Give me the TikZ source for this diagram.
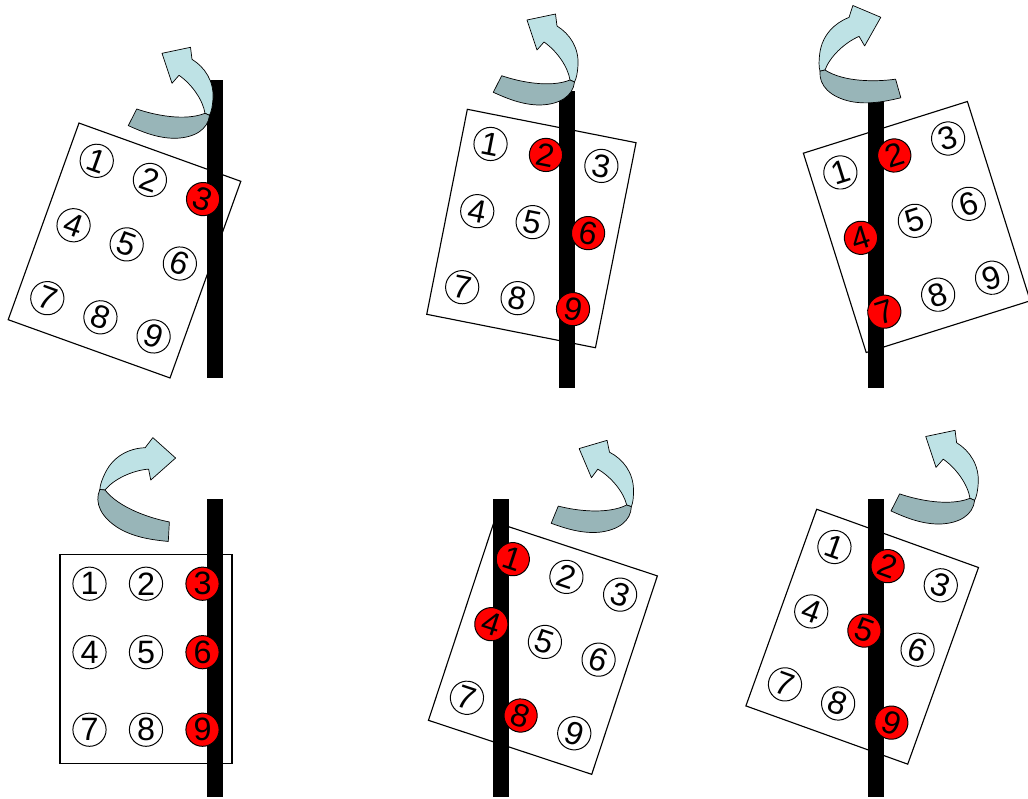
\documentclass[tikz,border=0pt]{standalone}
\usepackage{fontspec}
\setmainfont{Liberation Sans}
\usepackage{tikz}
\definecolor{ribbonlight}{RGB}{190,226,229}
\definecolor{ribbondark}{RGB}{152,181,184}
% twisted ribbon arrow, drawn round its twist point
\newcommand{\twistarrow}{%
  \draw[ribbon,fill=ribbonlight] (0,0) .. controls (-2,-13) and (-13,-29) .. (-26,-38) -- (-33,-30) -- (-43,-60) -- (-14.5,-66) -- (-13,-54) .. controls (0,-46) and (9,-32) .. (8,-15) .. controls (7.5,-7) and (6.5,-2) .. (4.5,2) -- cycle;
  \draw[ribbon,fill=ribbondark] (-68.3,-4.3) .. controls (-50,2) and (-20,8) .. (0,0) -- (4.5,2) .. controls (3,16) and (-10,24.5) .. (-30,25) .. controls (-48,25) and (-64,18) .. (-76.7,12.3) -- cycle;}

\begin{document}
\begin{tikzpicture}[x=0.025cm,y=-0.025cm,
    card/.style={draw,fill=white,line width=0.8pt},
    bar/.style={fill=black},
    ribbon/.style={draw=black,line width=0.5pt,line join=round},
    hole/.style={circle,draw,line width=0.7pt,fill=white,minimum size=0.83cm,inner sep=0pt,transform shape,font=\fontsize{23}{23}\selectfont},
    redhole/.style={hole,fill=red},
    panelA/.style={shift={(124.5,250.5)},rotate=-19.8},
    panelB/.style={shift={(531.4,228.5)},rotate=-11.2},
    panelC/.style={shift={(916.8,227)},rotate=17.5},
    panelD/.style={shift={(146,658.7)}},
    panelE/.style={shift={(542.9,648.1)},rotate=-18.3},
    panelF/.style={shift={(862.2,636.7)},rotate=-19.8}]
  \useasboundingbox (0,0) rectangle (1028,798);

  % top left
  \draw[card,panelA] (-86,-104.5) -- (86,-104.5) -- (86,104.5) -- (-86,104.5) -- cycle;
  \fill[bar] (206.5,80) rectangle (222.5,378);
  \begin{scope}[panelA]
    \node[hole] (a1) at (-56.5,-75) {1};
    \node[hole] (a2) at (0,-75) {2};
    \node[redhole] (a3) at (56.5,-75) {3};
    \node[hole] (a4) at (-56.5,-6.5) {4};
    \node[hole] (a5) at (0,-6.5) {5};
    \node[hole] (a6) at (56.5,-6.5) {6};
    \node[hole] (a7) at (-56.5,71) {7};
    \node[hole] (a8) at (0,71) {8};
    \node[hole] (a9) at (56.5,71) {9};
  \end{scope}
  \begin{scope}[shift={(205,113.3)}]
    \twistarrow
  \end{scope}

  % top middle
  \draw[card,panelB] (-86,-104.5) -- (86,-104.5) -- (86,104.5) -- (-86,104.5) -- cycle;
  \fill[bar] (559.2,90.7) rectangle (575.2,388.3);
  \begin{scope}[panelB]
    \node[hole] (b1) at (-56.5,-75) {1};
    \node[redhole] (b2) at (0,-75) {2};
    \node[hole] (b3) at (56.5,-75) {3};
    \node[hole] (b4) at (-56.5,-6.5) {4};
    \node[hole] (b5) at (0,-6.5) {5};
    \node[redhole] (b6) at (56.5,-6.5) {6};
    \node[hole] (b7) at (-56.5,71) {7};
    \node[hole] (b8) at (0,71) {8};
    \node[redhole] (b9) at (56.5,71) {9};
  \end{scope}
  \begin{scope}[shift={(570,80)}]
    \twistarrow
  \end{scope}

  % top right
  \draw[card,panelC] (-86,-104.5) -- (86,-104.5) -- (86,104.5) -- (-86,104.5) -- cycle;
  \fill[bar] (867.7,100) rectangle (883.7,388.3);
  \begin{scope}[panelC]
    \node[hole] (c1) at (-56.5,-75) {1};
    \node[redhole] (c2) at (0,-75) {2};
    \node[hole] (c3) at (56.5,-75) {3};
    \node[redhole] (c4) at (-56.5,-6.5) {4};
    \node[hole] (c5) at (0,-6.5) {5};
    \node[hole] (c6) at (56.5,-6.5) {6};
    \node[redhole] (c7) at (-56.5,71) {7};
    \node[hole] (c8) at (0,71) {8};
    \node[hole] (c9) at (56.5,71) {9};
  \end{scope}
  \begin{scope}[shift={(825,70)},rotate=-11,xscale=-1.04,yscale=1.04]
    \twistarrow
  \end{scope}

  % bottom left
  \draw[card,panelD] (-86,-104.5) -- (86,-104.5) -- (86,104.5) -- (-86,104.5) -- cycle;
  \fill[bar] (206.5,499) rectangle (222.5,796.7);
  \begin{scope}[panelD]
    \node[hole] (d1) at (-56.5,-75) {1};
    \node[hole] (d2) at (0,-75) {2};
    \node[redhole] (d3) at (56.5,-75) {3};
    \node[hole] (d4) at (-56.5,-6.5) {4};
    \node[hole] (d5) at (0,-6.5) {5};
    \node[redhole] (d6) at (56.5,-6.5) {6};
    \node[hole] (d7) at (-56.5,71) {7};
    \node[hole] (d8) at (0,71) {8};
    \node[redhole] (d9) at (56.5,71) {9};
  \end{scope}
  \begin{scope}[shift={(105,490)},rotate=-30,xscale=-1.05,yscale=1.05]
    \twistarrow
  \end{scope}

  % bottom middle
  \draw[card,panelE] (-86,-104.5) -- (86,-104.5) -- (86,104.5) -- (-86,104.5) -- cycle;
  \fill[bar] (493.3,499) rectangle (509.3,796.7);
  \begin{scope}[panelE]
    \node[redhole] (e1) at (-56.5,-75) {1};
    \node[hole] (e2) at (0,-75) {2};
    \node[hole] (e3) at (56.5,-75) {3};
    \node[redhole] (e4) at (-56.5,-6.5) {4};
    \node[hole] (e5) at (0,-6.5) {5};
    \node[hole] (e6) at (56.5,-6.5) {6};
    \node[hole] (e7) at (-56.5,71) {7};
    \node[redhole] (e8) at (0,71) {8};
    \node[hole] (e9) at (56.5,71) {9};
  \end{scope}
  \begin{scope}[shift={(626.7,505)},rotate=4.5]
    \twistarrow
  \end{scope}

  % bottom right
  \draw[card,panelF] (-86,-104.5) -- (86,-104.5) -- (86,104.5) -- (-86,104.5) -- cycle;
  \fill[bar] (868.2,499) rectangle (884.2,796.7);
  \begin{scope}[panelF]
    \node[hole] (f1) at (-56.5,-75) {1};
    \node[redhole] (f2) at (0,-75) {2};
    \node[hole] (f3) at (56.5,-75) {3};
    \node[hole] (f4) at (-56.5,-6.5) {4};
    \node[redhole] (f5) at (0,-6.5) {5};
    \node[hole] (f6) at (56.5,-6.5) {6};
    \node[hole] (f7) at (-56.5,71) {7};
    \node[hole] (f8) at (0,71) {8};
    \node[redhole] (f9) at (56.5,71) {9};
  \end{scope}
  \begin{scope}[shift={(970,498.3)},scale=1.03]
    \twistarrow
  \end{scope}
\end{tikzpicture}
\end{document}
